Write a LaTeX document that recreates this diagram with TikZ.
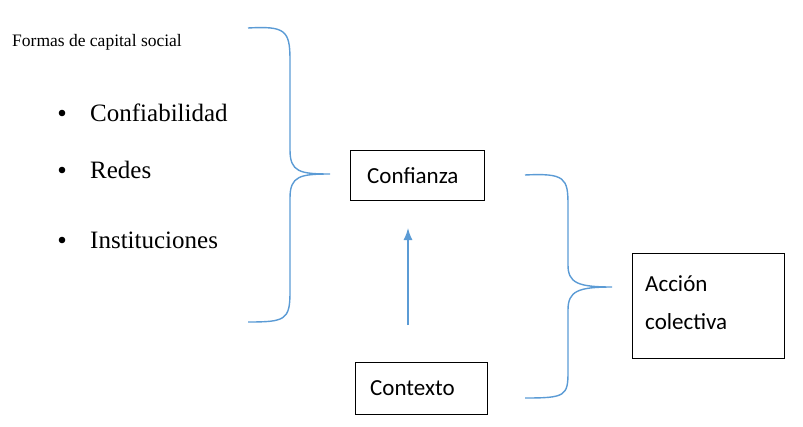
\documentclass[tikz,border=0pt]{standalone}
\usepackage{fontspec}
\usetikzlibrary{arrows.meta}
\setmainfont{Liberation Serif}
\newfontfamily\calfont{Carlito}
\definecolor{bblue}{RGB}{91,155,213}
\begin{document}
\begin{tikzpicture}[x=1pt,y=-1pt,
  br/.style={draw=bblue, line width=1.4pt},
  bt/.style={font=\fontsize{25}{25}\selectfont, anchor=west}]
\useasboundingbox (0,0) rectangle (803,426);
\node[anchor=west, font=\fontsize{17.5}{17.5}\selectfont, inner sep=0] (t) at (12,42) {Formas de capital social};
\foreach \y/\n/\t in {113/a/Confiabilidad,170/b/Redes,240/c/Instituciones}{
  \fill (62,\y) circle (3.3);
  \node[bt, inner sep=0] (\n) at (90,\y) {\t};
}
\draw[br] (248,28) .. controls (285,26) and (290,30) .. (290,60) -- (290,150)
  .. controls (290,172) and (300,174) .. (330,174)
  .. controls (300,174) and (290,176) .. (290,198) -- (290,292)
  .. controls (290,320) and (285,322) .. (248,322);
\draw[br] (525,175) .. controls (565,173) and (568,178) .. (568,205) -- (568,265)
  .. controls (568,283) and (578,287) .. (612,287)
  .. controls (578,287) and (568,291) .. (568,310) -- (568,372)
  .. controls (568,396) and (565,398) .. (525,398);
\draw[line width=1pt] (350,150) rectangle (484,200);
\node[font=\calfont\fontsize{23}{23}\selectfont, anchor=west, inner sep=0] (conf) at (367,176) {Confianza};
\coordinate (confb) at (408,228);
\draw[line width=1pt] (355,362) rectangle (487,414);
\node[font=\calfont\fontsize{23}{23}\selectfont, anchor=west, inner sep=0] (ctx) at (370,388) {Contexto};
\coordinate (ctxt) at (408,325);
\draw[br,-{Latex[length=12pt,width=9pt]}] (ctxt) -- (confb);
\draw[line width=1pt] (632,253) rectangle (784,358);
\node[font=\calfont\fontsize{23}{38}\selectfont, align=left, anchor=west, inner sep=0] (acc) at (645,303) {Acción\\colectiva};
\end{tikzpicture}
\end{document}
